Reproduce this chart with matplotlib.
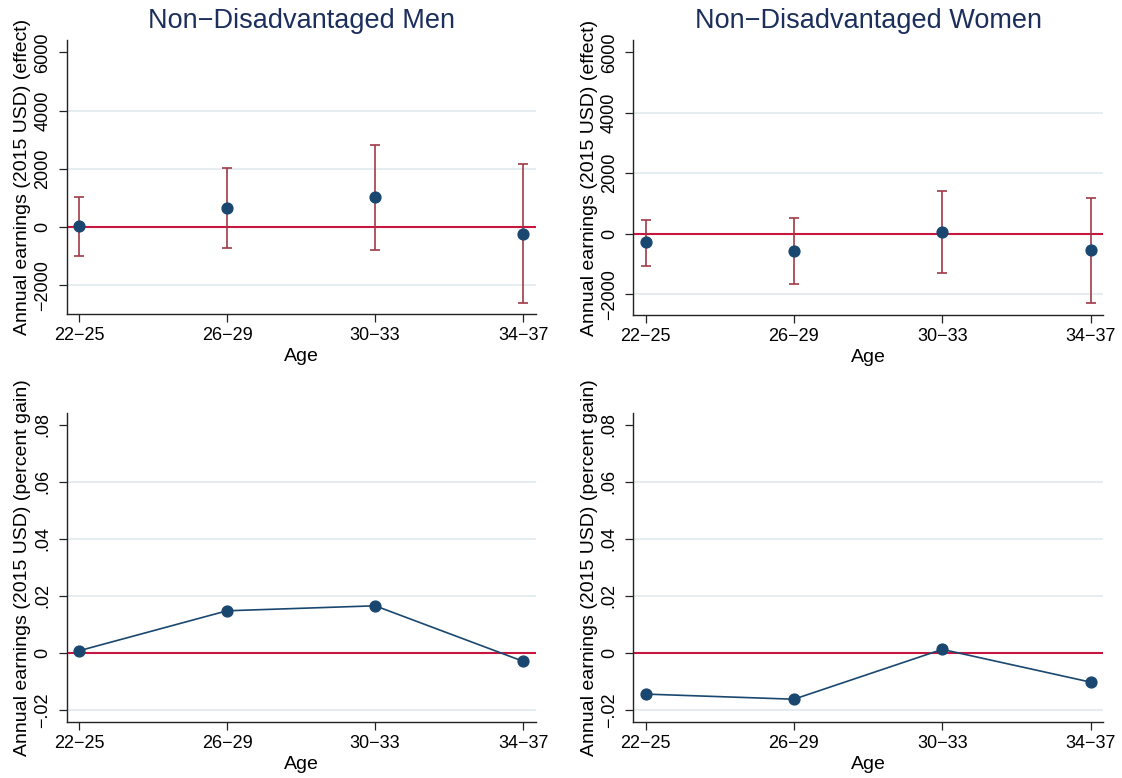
import matplotlib
matplotlib.use("Agg")
import matplotlib.pyplot as plt

plt.rcParams['font.family'] = ['Liberation Sans', 'DejaVu Sans']

# ---- data ----
age_groups = ["22\u221225", "26\u221229", "30\u221233", "34\u221237"]
titles = ["Non\u2212Disadvantaged Men", "Non\u2212Disadvantaged Women"]

men_effect = [20, 640, 1017, -229]
men_effect_lo = [-994, -731, -789, -2594]
men_effect_hi = [1029, 2011, 2823, 2160]

women_effect = [-287, -562, 44, -540]
women_effect_lo = [-1058, -1653, -1311, -2281]
women_effect_hi = [463, 518, 1410, 1179]

men_pct = [0.0007, 0.01475, 0.0165, -0.0030]
women_pct = [-0.0145, -0.0163, 0.0012, -0.0103]

effect_ticks = [-2000, 0, 2000, 4000, 6000]
effect_ticklabels = ["\u22122000", "0", "2000", "4000", "6000"]
pct_ticks = [-0.02, 0, 0.02, 0.04, 0.06, 0.08]
pct_ticklabels = ["\u2212.02", "0", ".02", ".04", ".06", ".08"]

ylabel_effect = "Annual earnings (2015 USD) (effect)"
ylabel_pct = "Annual earnings (2015 USD) (percent gain)"
xlabel = "Age"

# ---- style ----
NAVY = "#1a476f"
TITLE_C = "#1c2f5c"
ERR_C = "#9e3b47"
ZERO_C = "#c8173f"
GRID_C = "#e4ecef"

W, H = 1122, 778
fig = plt.figure(figsize=(W / 100, H / 100), dpi=100)

def px_axes(l, r, t, b):
    return fig.add_axes([l / W, 1 - b / H, (r - l) / W, (b - t) / H])

ax1 = px_axes(66.5, 535.7, 40, 314.3)
ax2 = px_axes(633.1, 1103, 40, 315)
ax3 = px_axes(66.5, 535.7, 412.7, 722)
ax4 = px_axes(633.1, 1103, 412.7, 722)

x = list(range(len(age_groups)))

def style(ax, ticks, ticklabels, ylim, ylabel):
    ax.set_xlim(-0.084, 3.084)
    ax.set_ylim(*ylim)
    for s in ("top", "right"):
        ax.spines[s].set_visible(False)
    for s in ("left", "bottom"):
        ax.spines[s].set_linewidth(1.0)
        ax.spines[s].set_color("#222222")
    ax.set_xticks(x, age_groups)
    ax.set_yticks(ticks, ticklabels)
    for lab in ax.get_yticklabels():
        lab.set_rotation(90)
        lab.set_va("center")
    ax.tick_params(axis="both", labelsize=13, length=6, width=0.9, color="#222222")
    ax.tick_params(axis="x", pad=3)
    ax.tick_params(axis="y", pad=5)
    for t in ticks[:-1]:
        ax.axhline(t, color=GRID_C, lw=1.3, zorder=0)
    ax.axhline(0, color=ZERO_C, lw=1.5, zorder=2)
    ax.set_ylabel(ylabel, fontsize=14, labelpad=2)
    ax.set_xlabel(xlabel, fontsize=14, labelpad=3)

# top panels
for ax, y, lo, hi, ylim, title in [
    (ax1, men_effect, men_effect_lo, men_effect_hi, (-2995, 6423), titles[0]),
    (ax2, women_effect, women_effect_lo, women_effect_hi, (-2684, 6407), titles[1]),
]:
    style(ax, effect_ticks, effect_ticklabels, ylim, ylabel_effect)
    yerr = [[yi - l for yi, l in zip(y, lo)], [h - yi for yi, h in zip(y, hi)]]
    ax.errorbar(x, y, yerr=yerr, fmt="none", ecolor=ERR_C, elinewidth=1.2,
                capsize=3.8, capthick=1.2, zorder=3)
    ax.plot(x, y, "o", color=NAVY, markersize=7.8, zorder=4)
    ax.set_title(title, fontsize=19.5, color=TITLE_C, pad=8.5)

# bottom panels
for ax, y in [(ax3, men_pct), (ax4, women_pct)]:
    style(ax, pct_ticks, pct_ticklabels, (-0.0243, 0.0843), ylabel_pct)
    ax.plot(x, y, "-o", color=NAVY, lw=1.2, markersize=7.8, zorder=4)

fig.savefig("out.png", dpi=100, facecolor="white")
